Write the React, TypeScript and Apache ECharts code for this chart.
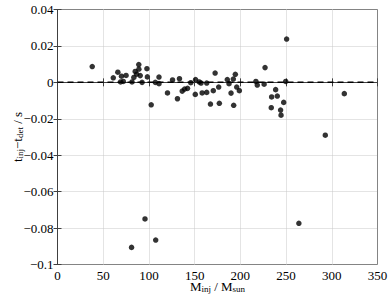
import React, { useEffect, useRef } from "react";
import * as echarts from "echarts";

const massInj: number[] = [
  38, 61, 66, 70, 75, 69, 72, 81.5, 83.5, 85, 86.6, 88.9, 89, 90.5, 92.5, 97.8, 98.3, 102.5, 107, 111,
  111, 120.3, 125.8, 133.4, 131.2, 136.4, 139, 142.2, 145.8, 151, 155, 150.7, 158.2, 157, 163.2, 163.2,
  170.4, 172.4, 176.3, 167.3, 177, 185.7, 187.6, 192.3, 194.5, 196, 198.9, 189.8, 192.7, 217, 218.5, 226,
  227, 249.6, 250.6, 238.6, 234.2, 240.4, 247.4, 233.8, 244, 244.5, 313.7, 292.9, 264, 81, 107.4, 95.7,
];
const timeDiff: number[] = [
  0.0087, 0.0025, 0.0056, 0.0034, 0.0038, 0.0002, 0.0005, 0.0002, 0.0027, 0.006, 0.0045, 0.0098, 0.0072,
  0.0037, 0.0, 0.0075, 0.003, -0.0123, 0.0, 0.0029, -0.0007, -0.0058, 0.0013, 0.002, -0.009, -0.0048,
  -0.0037, -0.0033, -0.0002, 0.0015, 0.0002, -0.0066, -0.0058, -0.0004, -0.0004, -0.0055, -0.0046, 0.0051,
  -0.0026, -0.0119, -0.0115, 0.0015, -0.0007, 0.0018, 0.0044, -0.0026, -0.0046, -0.0059, -0.0126, 0.0005,
  -0.0015, -0.001, 0.0081, 0.0005, 0.0238, -0.004, -0.008, -0.0075, -0.011, -0.0139, -0.0152, -0.018,
  -0.0062, -0.029, -0.0774, -0.0906, -0.0866, -0.075,
];
const zeroLineX: number[] = [0, 350];
const zeroLineY: number[] = [0, 0];

const FONT = "Liberation Serif, Times New Roman, DejaVu Serif, serif";

export default function App() {
  const ref = useRef<HTMLDivElement>(null);
  useEffect(() => {
    if (!ref.current) return;
    const chart = echarts.init(ref.current, undefined, { renderer: "svg" });
    const fmt = (v: number) => {
      const r = parseFloat(v.toFixed(2));
      if (r === 0) return "0";
      return r < 0 ? "\u2212" + String(Math.abs(r)) : String(r);
    };
    const axisLineStyle = { color: "#404040", width: 1 };
    const splitLine = { show: true, lineStyle: { color: "#c8c8c8", type: "dotted" as const, width: 1 } };
    const rich = {
      n: { fontFamily: FONT, fontSize: 13, color: "#000", lineHeight: 14, verticalAlign: "top" as const },
      s: { fontFamily: FONT, fontSize: 9, color: "#000", lineHeight: 14, verticalAlign: "bottom" as const },
    };
    chart.setOption({
      animation: false,
      textStyle: { fontFamily: FONT },
      grid: {
        left: 57.5,
        right: 12.5,
        top: 9.5,
        bottom: 34.5,
        show: true,
        borderColor: "#404040",
        borderWidth: 1,
        containLabel: false,
        outerBoundsMode: "none",
      },
      xAxis: [
        {
          type: "value",
          min: 0,
          max: 350,
          interval: 50,
          position: "bottom",
          axisLine: { show: true, lineStyle: axisLineStyle },
          axisTick: { show: true, inside: true, length: 4, lineStyle: axisLineStyle },
          axisLabel: { fontFamily: FONT, fontSize: 13, color: "#000", margin: 4 },
          splitLine,
          name: "{n|M}{s|inj}{n| / M}{s|sun}",
          nameLocation: "middle",
          nameGap: 15,
          nameMoveOverlap: false,
          nameTextStyle: { rich, fontFamily: FONT },
        },
        {
          type: "value",
          min: 0,
          max: 350,
          interval: 50,
          position: "top",
          axisLine: { show: true, lineStyle: axisLineStyle },
          axisTick: { show: true, inside: true, length: 4, lineStyle: axisLineStyle },
          axisLabel: { show: false },
          splitLine: { show: false },
        },
      ],
      yAxis: [
        {
          type: "value",
          min: -0.1,
          max: 0.04,
          interval: 0.02,
          position: "left",
          axisLine: { show: true, lineStyle: axisLineStyle },
          axisTick: { show: true, inside: true, length: 4, lineStyle: axisLineStyle },
          axisLabel: { fontFamily: FONT, fontSize: 13, color: "#000", margin: 4, formatter: fmt },
          splitLine,
          name: "{n|t}{s|inj}{n|\u2212t}{s|det}{n| / s}",
          nameLocation: "middle",
          nameGap: 33,
          nameMoveOverlap: false,
          nameTextStyle: { rich, fontFamily: FONT },
        },
        {
          type: "value",
          min: -0.1,
          max: 0.04,
          interval: 0.02,
          position: "right",
          axisLine: { show: true, lineStyle: axisLineStyle },
          axisTick: { show: true, inside: true, length: 4, lineStyle: axisLineStyle },
          axisLabel: { show: false },
          splitLine: { show: false },
        },
      ],
      series: [
        {
          type: "line",
          data: zeroLineX.map((x, i) => [x, zeroLineY[i]]),
          symbol: "none",
          lineStyle: { color: "#000", width: 1.5, type: [6, 4] },
          silent: true,
          z: 2,
        },
        {
          type: "scatter",
          data: massInj.map((x, i) => [x, timeDiff[i]]),
          symbol: "circle",
          symbolSize: 5.5,
          itemStyle: { color: "#000" },
          z: 3,
        },
      ],
    });
    return () => chart.dispose();
  }, []);
  return <div ref={ref} style={{ width: 390, height: 299, position: "absolute", left: 0, top: 0, background: "#fff" }} />;
}
